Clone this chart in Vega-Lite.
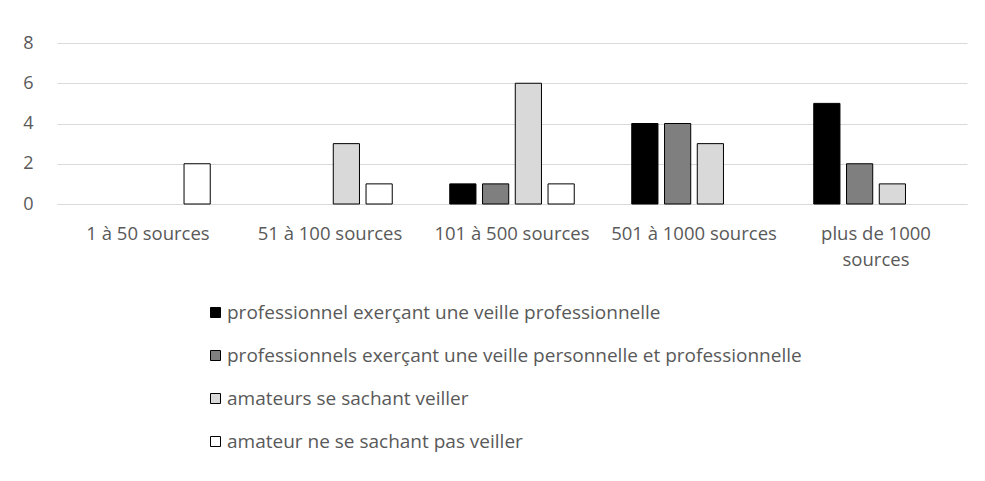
{
  "$schema": "https://vega.github.io/schema/vega-lite/v6.json",
  "width": 910,
  "height": 161,
  "autosize": {"type": "none"},
  "padding": {"left": 57, "top": 43, "right": 18, "bottom": 277},
  "background": "white",
  "config": {
    "view": {"stroke": null},
    "font": "Open Sans"
  },
  "data": {
    "values": [
      {"cat": "1 à 50 sources", "grp": "amateur ne se sachant pas veiller", "v": 2},
      {"cat": "51 à 100 sources", "grp": "amateurs se sachant veiller", "v": 3},
      {"cat": "51 à 100 sources", "grp": "amateur ne se sachant pas veiller", "v": 1},
      {"cat": "101 à 500 sources", "grp": "professionnel exerçant une veille professionnelle", "v": 1},
      {"cat": "101 à 500 sources", "grp": "professionnels exerçant une veille personnelle et professionnelle", "v": 1},
      {"cat": "101 à 500 sources", "grp": "amateurs se sachant veiller", "v": 6},
      {"cat": "101 à 500 sources", "grp": "amateur ne se sachant pas veiller", "v": 1},
      {"cat": "501 à 1000 sources", "grp": "professionnel exerçant une veille professionnelle", "v": 4},
      {"cat": "501 à 1000 sources", "grp": "professionnels exerçant une veille personnelle et professionnelle", "v": 4},
      {"cat": "501 à 1000 sources", "grp": "amateurs se sachant veiller", "v": 3},
      {"cat": "plus de 1000 sources", "grp": "professionnel exerçant une veille professionnelle", "v": 5},
      {"cat": "plus de 1000 sources", "grp": "professionnels exerçant une veille personnelle et professionnelle", "v": 2},
      {"cat": "plus de 1000 sources", "grp": "amateurs se sachant veiller", "v": 1}
    ]
  },
  "mark": {"type": "bar", "stroke": "black", "strokeWidth": 1},
  "encoding": {
    "x": {
      "field": "cat",
      "type": "nominal",
      "sort": ["1 à 50 sources", "51 à 100 sources", "101 à 500 sources", "501 à 1000 sources", "plus de 1000 sources"],
      "scale": {"paddingInner": 0.28, "paddingOuter": 0.14},
      "axis": {
        "title": null,
        "labelAngle": 0,
        "ticks": false,
        "domainColor": "#d9d9d9",
        "labelFontSize": 18.5,
        "labelColor": "#595959",
        "labelPadding": 29,
        "labelBaseline": "middle",
        "labelLineHeight": 26,
        "labelExpr": "datum.value == 'plus de 1000 sources' ? ['plus de 1000', 'sources'] : datum.value"
      }
    },
    "xOffset": {
      "field": "grp",
      "type": "nominal",
      "scale": {
        "domain": ["professionnel exerçant une veille professionnelle", "professionnels exerçant une veille personnelle et professionnelle", "amateurs se sachant veiller", "amateur ne se sachant pas veiller"],
        "paddingInner": 0.2,
        "paddingOuter": 0.1
      }
    },
    "y": {
      "field": "v",
      "type": "quantitative",
      "scale": {"domain": [0, 8]},
      "axis": {
        "title": null,
        "values": [0, 2, 4, 6, 8],
        "domain": false,
        "ticks": false,
        "gridColor": "#d9d9d9",
        "gridWidth": 1,
        "labelFontSize": 18,
        "labelColor": "#595959",
        "labelPadding": 24
      }
    },
    "fill": {
      "field": "grp",
      "type": "nominal",
      "scale": {
        "domain": ["professionnel exerçant une veille professionnelle", "professionnels exerçant une veille personnelle et professionnelle", "amateurs se sachant veiller", "amateur ne se sachant pas veiller"],
        "range": ["#000000", "#7f7f7f", "#d9d9d9", "#ffffff"]
      },
      "legend": {
        "title": null,
        "orient": "none",
        "direction": "vertical",
        "legendX": 149,
        "legendY": 260,
        "padding": 0,
        "symbolType": "square",
        "symbolSize": 100,
        "symbolStrokeColor": "black",
        "symbolStrokeWidth": 1,
        "symbolOpacity": 1,
        "labelFontSize": 19,
        "labelColor": "#595959",
        "labelOffset": 2,
        "rowPadding": 23,
        "labelLimit": 800
      }
    }
  }
}
